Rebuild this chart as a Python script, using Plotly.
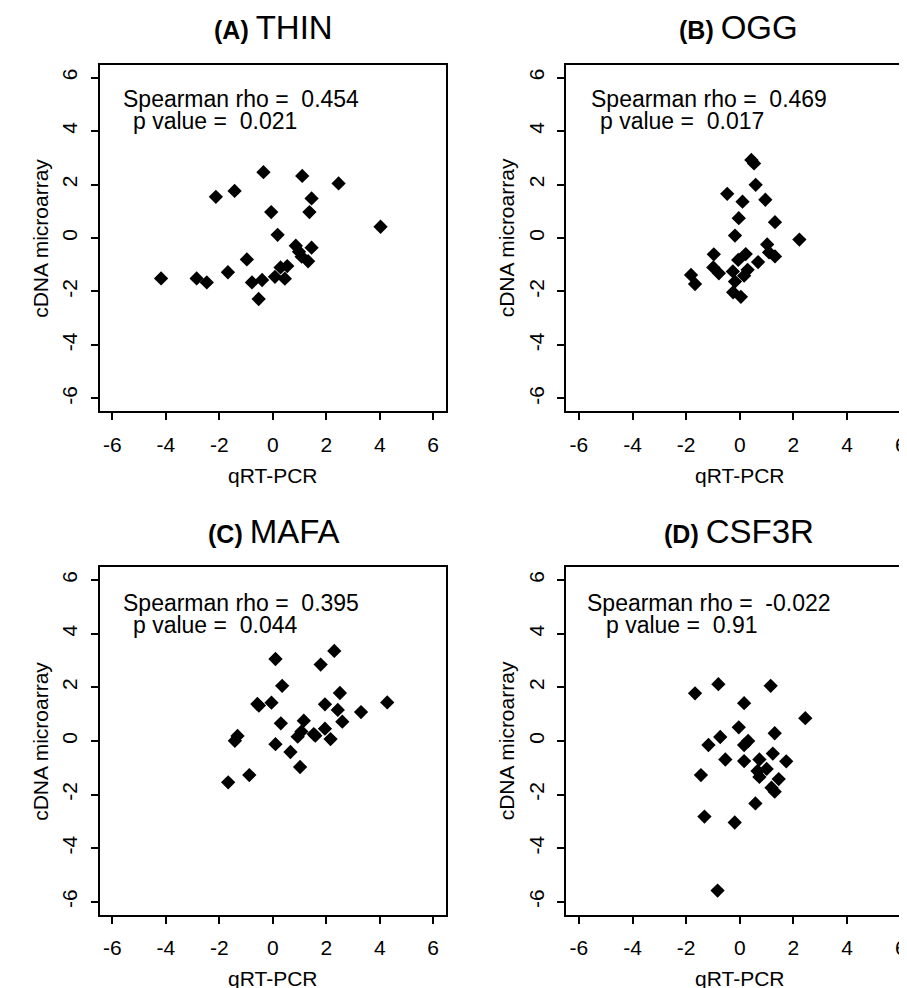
import plotly.graph_objects as go

W, H = 907, 988
OFF = 8  # page body margin of the browser
FONT = "Liberation Sans, Arial, sans-serif"

panel_tags = ["(A)", "(B)", "(C)", "(D)"]
genes = ["THIN", "OGG", "MAFA", "CSF3R"]
rho_values = ["0.454", "0.469", "0.395", "-0.022"]
p_values = ["0.021", "0.017", "0.044", "0.91"]
tick_values = [-6, -4, -2, 0, 2, 4, 6]
tick_labels = ["-6", "-4", "-2", "0", "2", "4", "6"]
x_title = "qRT-PCR"
y_title = "cDNA microarray"

thin_qpcr = [-4.18, -2.85, -2.47, -2.13, -1.43, -1.68, -0.97, -0.78, -0.40, -0.53,
             -0.35, -0.06, 0.18, 0.08, 0.45, 0.29, 0.54, 0.86, 0.98, 1.08,
             1.32, 1.10, 1.45, 1.37, 1.45, 2.46, 4.03]
thin_array = [-1.51, -1.51, -1.66, 1.54, 1.76, -1.28, -0.80, -1.66, -1.57, -2.28,
              2.46, 0.97, 0.12, -1.45, -1.52, -1.10, -1.05, -0.29, -0.51, -0.70,
              -0.87, 2.32, 1.48, 0.97, -0.36, 2.04, 0.42]

ogg_qpcr = [0.43, 0.53, 0.59, -0.47, 0.10, 0.95, -0.04, 1.31, -0.18, 2.22,
            -0.97, 0.22, -0.06, 1.02, 1.09, 1.31, 0.68, -0.99, -0.78, -0.26,
            0.29, 0.16, -1.82, -1.67, -0.18, -0.25, 0.04]
ogg_array = [2.92, 2.79, 1.99, 1.65, 1.36, 1.43, 0.74, 0.59, 0.09, -0.06,
             -0.61, -0.60, -0.82, -0.24, -0.54, -0.69, -0.90, -1.10, -1.32, -1.25,
             -1.19, -1.41, -1.38, -1.72, -1.63, -2.03, -2.20]

mafa_qpcr = [2.30, 0.10, 1.79, 0.35, 2.51, -0.52, -0.58, -0.05, 1.95, 4.28,
             2.43, 3.30, 2.60, 0.30, 1.16, 1.07, 0.93, 1.53, 1.59, 1.95,
             2.16, -1.32, -1.42, 0.10, 0.66, 1.02, -0.88, -1.67]
mafa_array = [3.36, 3.06, 2.85, 2.06, 1.79, 1.32, 1.38, 1.43, 1.37, 1.44,
              1.16, 1.08, 0.72, 0.66, 0.76, 0.35, 0.16, 0.26, 0.20, 0.46,
              0.07, 0.19, 0.01, -0.12, -0.41, -0.97, -1.27, -1.54]

csf3r_qpcr = [-0.80, -1.67, 1.15, 0.16, 2.44, -0.04, 1.30, -0.73, -1.17, 0.31,
              0.16, 1.23, -0.54, 0.16, 0.73, 1.73, 1.00, 0.66, 0.73, 1.45,
              -1.45, 1.18, 1.30, 0.58, -1.32, -0.19, -0.83]
csf3r_array = [2.12, 1.78, 2.06, 1.41, 0.85, 0.51, 0.29, 0.15, -0.15, 0.00,
               -0.15, -0.47, -0.69, -0.75, -0.69, -0.76, -1.04, -1.12, -1.34, -1.42,
               -1.27, -1.74, -1.89, -2.33, -2.82, -3.04, -5.58]

xs = [thin_qpcr, ogg_qpcr, mafa_qpcr, csf3r_qpcr]
ys = [thin_array, ogg_array, mafa_array, csf3r_array]

# layout geometry (screen pixels)
boxes = [  # left, right, top, bottom
    (100.0, 447.5, 64.7, 411.3),
    (568.5, 907.0, 64.7, 411.3),
    (100.0, 447.5, 567.3, 914.7),
    (568.5, 907.0, 567.3, 914.7),
]
unit_x = [26.85, 26.94, 26.85, 26.94]
title_centers = [(275, 27), (742, 27), (275, 531), (742, 531)]
stat_line1 = [(121.7, 99), (591.7, 99), (121.7, 602.5), (587.7, 602.5)]
stat_line2 = [(131.7, 121), (601.0, 121), (131.7, 625), (606.7, 625)]

def fx(p):
    return (p - OFF) / W

def fy(p):
    return 1 - (p - OFF) / H

fig = go.Figure()
annotations = []
layout_axes = {}
for i in range(4):
    n = i + 1
    xa = "x" if n == 1 else f"x{n}"
    ya = "y" if n == 1 else f"y{n}"
    l, r, t, b = boxes[i]
    right_cut = r >= W
    xmax = -6.48 + (r - l) / unit_x[i]
    fig.add_trace(go.Scatter(
        x=xs[i], y=ys[i], mode="markers", xaxis=xa, yaxis=ya,
        marker=dict(symbol="diamond", size=11, color="black",
                    line=dict(width=0)),
        showlegend=False, hoverinfo="x+y"))
    common = dict(showgrid=False, zeroline=False, showline=True,
                  linecolor="black", linewidth=2, ticks="outside", ticklen=7,
                  tickwidth=2, tickcolor="black", tickvals=tick_values,
                  ticktext=tick_labels,
                  tickfont=dict(family=FONT, size=21, color="black"))
    layout_axes["xaxis" if n == 1 else f"xaxis{n}"] = dict(
        common, domain=[fx(l), fx(r)], range=[-6.48, xmax], anchor=ya,
        mirror=True, ticklabelstandoff=6)
    layout_axes["yaxis" if n == 1 else f"yaxis{n}"] = dict(
        common, domain=[fy(b), fy(t)], range=[-6.48, 6.48], anchor=xa,
        mirror=(not right_cut), tickangle=-90, ticklabelstandoff=5)

    # panel title
    tx, ty = title_centers[i]
    annotations.append(dict(
        xref="paper", yref="paper", x=fx(tx), y=fy(ty), xanchor="center",
        yanchor="middle", showarrow=False,
        text=f"<b>{panel_tags[i]}</b> <span style='font-size:33px'>{genes[i]}</span>",
        font=dict(family=FONT, size=25, color="black")))
    # stats text
    x1, y1 = stat_line1[i]
    x2, y2 = stat_line2[i]
    annotations.append(dict(
        xref="paper", yref="paper", x=fx(x1), y=fy(y1), xanchor="left",
        yanchor="middle", showarrow=False,
        text=f"Spearman rho =\u00a0\u00a0{rho_values[i]}",
        font=dict(family=FONT, size=23, color="black")))
    annotations.append(dict(
        xref="paper", yref="paper", x=fx(x2), y=fy(y2), xanchor="left",
        yanchor="middle", showarrow=False,
        text=f"p value =\u00a0\u00a0{p_values[i]}",
        font=dict(family=FONT, size=23, color="black")))
    # axis titles
    bx_center = (l + (l + 12.96 * unit_x[i])) / 2
    annotations.append(dict(
        xref="paper", yref="paper", x=fx(bx_center), y=fy(b + 64),
        xanchor="center", yanchor="middle", showarrow=False, text=x_title,
        font=dict(family=FONT, size=21, color="black")))
    annotations.append(dict(
        xref="paper", yref="paper", x=fx(l - 60), y=fy((t + b) / 2),
        xanchor="center", yanchor="middle", showarrow=False, text=y_title,
        textangle=-90, font=dict(family=FONT, size=21, color="black")))

fig.update_layout(
    width=W, height=H, margin=dict(l=0, r=0, t=0, b=0, pad=0),
    paper_bgcolor="white", plot_bgcolor="white",
    font=dict(family=FONT, color="black"),
    annotations=annotations, **layout_axes)

fig.write_html("out.html")
